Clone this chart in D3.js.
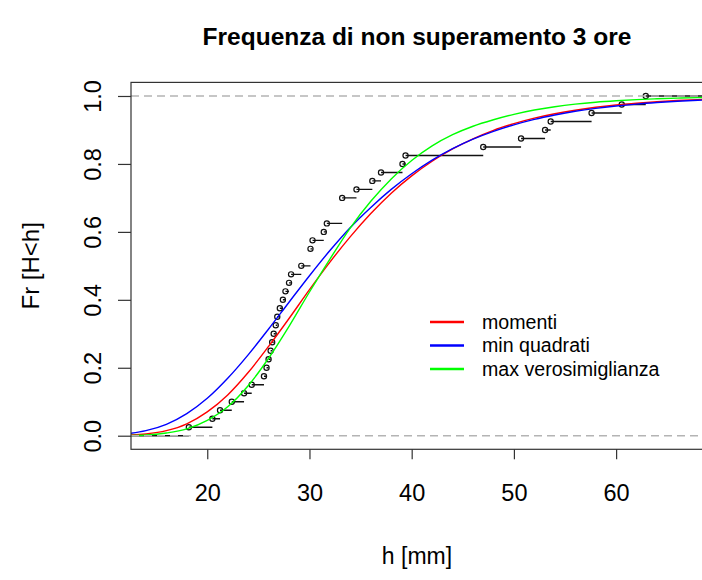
<!DOCTYPE html>
<html><head><meta charset="utf-8">
<script src="https://cdn.jsdelivr.net/npm/d3@7"></script>
<style>body{margin:0;background:#fff} text{font-family:"Liberation Sans",Arial,sans-serif;fill:#000}</style>
</head><body><svg id="c" width="702" height="580"></svg>
<script>
// sorted observed sample (h in mm) used for the empirical frequency
const sample = [18.2,20.5,21.25,22.4,23.6,24.35,25.55,25.8,26.0,26.2,
  26.35,26.5,26.7,26.85,27.1,27.4,27.65,28.0,28.2,29.2,
  30.1,30.1,30.3,31.4,31.7,33.2,33.2,33.2,34.6,36.15,
  37.0,39.1,39.4,47.0,50.7,53.05,53.6,57.6,60.55,62.9];
// fitted curves, read at these h values
const curveX = [12,14,16,18,20,22,24,26,28,30,32,34,36,38,40,42,44,46,48,50,52,54,56,58,60,62,64,66,68,70];
const momenti = [0.0013,0.005,0.0148,0.035,0.07,0.12,0.186,0.263,0.345,0.43,0.511,0.586,0.654,0.714,0.765,0.808,0.844,0.874,0.899,0.9185,0.9347,0.9477,0.9582,0.9667,0.9734,0.9788,0.9831,0.9866,0.9893,0.9915];
const minQuadrati = [0.0054,0.0149,0.0336,0.065,0.11,0.169,0.238,0.314,0.393,0.471,0.545,0.613,0.672,0.725,0.771,0.811,0.845,0.873,0.896,0.915,0.931,0.944,0.955,0.9636,0.9705,0.9762,0.9807,0.9844,0.9874,0.9899];
const maxVerosimiglianza = [0.0005,0.002,0.008,0.02,0.045,0.085,0.147,0.228,0.322,0.423,0.52,0.612,0.69,0.756,0.81,0.853,0.886,0.911,0.93,0.946,0.9588,0.9685,0.976,0.9817,0.986,0.9894,0.9919,0.9938,0.9953,0.9964];
const seriesNames = ["momenti","min quadrati","max verosimiglianza"];
const seriesColors = ["#ff0000","#0000ff","#00ff00"];
const xTicks = [20,30,40,50,60];
const yTicks = [0,0.2,0.4,0.6,0.8,1.0];
const refLines = [0,1];

const svg = d3.select("#c");
const L=131, R=703, T=82.4, B=449.3;
const x = d3.scaleLinear().domain([12.54,68.5]).range([L,R]);
const y = d3.scaleLinear().domain([-0.04,1.04]).range([B,T]);

svg.append("defs").append("clipPath").attr("id","clip")
  .append("rect").attr("x",L).attr("y",T).attr("width",R-L).attr("height",B-T);
const plot = svg.append("g").attr("clip-path","url(#clip)");

// ECDF steps
const n = sample.length;
const uniq = [];
sample.forEach((v,i)=>{ if(i===n-1 || sample[i+1]!==v) uniq.push({v, F:(i+1)/n}); });
const segs = [];
segs.push({x0:x.domain()[0]-5, x1:uniq[0].v, F:0});
uniq.forEach((d,i)=>{ segs.push({x0:d.v, x1: i<uniq.length-1 ? uniq[i+1].v : x.domain()[1]+5, F:d.F}); });
plot.selectAll("line.seg").data(segs).join("line").attr("class","seg")
  .attr("x1",d=>x(d.x0)).attr("x2",d=>x(d.x1)).attr("y1",d=>y(d.F)).attr("y2",d=>y(d.F))
  .attr("stroke","#111").attr("stroke-width",1.4);
plot.selectAll("circle.pt").data(uniq).join("circle").attr("class","pt")
  .attr("cx",d=>x(d.v)).attr("cy",d=>y(d.F)).attr("r",2.6)
  .attr("fill","none").attr("stroke","#111").attr("stroke-width",1.2);

// curves
const line = d3.line().x(d=>x(d[0])).y(d=>y(d[1])).curve(d3.curveMonotoneX);
[momenti,minQuadrati,maxVerosimiglianza].forEach((s,k)=>{
  plot.append("path").datum(curveX.map((cx,i)=>[cx,s[i]]))
    .attr("d",line).attr("fill","none").attr("stroke",seriesColors[k]).attr("stroke-width",1.4);
});

// reference dashed lines
plot.selectAll("line.ref").data(refLines).join("line").attr("class","ref")
  .attr("x1",L).attr("x2",R).attr("y1",d=>y(d)).attr("y2",d=>y(d))
  .attr("stroke","#b4b4b4").attr("stroke-width",1.4).attr("stroke-dasharray","8,5");

// box
svg.append("rect").attr("x",L).attr("y",T).attr("width",R-L).attr("height",B-T)
  .attr("fill","none").attr("stroke","#333").attr("stroke-width",1.2);

// x axis
const xa = svg.append("g").attr("transform",`translate(0,${B})`)
  .call(d3.axisBottom(x).tickValues(xTicks).tickSize(10).tickPadding(25).tickFormat(d3.format("d")));
xa.select(".domain").remove();
xa.selectAll("line").attr("stroke","#333").attr("stroke-width",1.2);
xa.selectAll("text").attr("font-size",23.5).attr("font-family","Liberation Sans, Arial, sans-serif").attr("fill","#000");

// y axis
const ya = svg.append("g").attr("transform",`translate(${L},0)`)
  .call(d3.axisLeft(y).tickValues(yTicks).tickSize(13).tickFormat(d3.format(".1f")));
ya.select(".domain").remove();
ya.selectAll("line").attr("stroke","#333").attr("stroke-width",1.2);
ya.selectAll("text").attr("x",0).attr("dy",0).attr("text-anchor","middle")
  .attr("transform","translate(-30,0) rotate(-90)")
  .attr("font-size",23.5).attr("font-family","Liberation Sans, Arial, sans-serif").attr("fill","#000");

// titles
svg.append("text").attr("x",(L+R)/2).attr("y",45).attr("text-anchor","middle")
  .attr("font-size",24.5).attr("font-weight","bold").text("Frequenza di non superamento 3 ore");
svg.append("text").attr("x",(L+R)/2).attr("y",564).attr("text-anchor","middle")
  .attr("font-size",23).text("h [mm]");
svg.append("text").attr("transform",`translate(39,${(T+B)/2}) rotate(-90)`).attr("text-anchor","middle")
  .attr("font-size",24).text("Fr [H<h]");

// legend
const lg = svg.append("g");
seriesNames.forEach((nm,i)=>{
  const ly = 322 + i*23.5;
  lg.append("line").attr("x1",430).attr("x2",464).attr("y1",ly).attr("y2",ly)
    .attr("stroke",seriesColors[i]).attr("stroke-width",2.5);
  lg.append("text").attr("x",482).attr("y",ly).attr("dy","0.35em").attr("font-size",19.6).text(nm);
});
</script></body></html>
